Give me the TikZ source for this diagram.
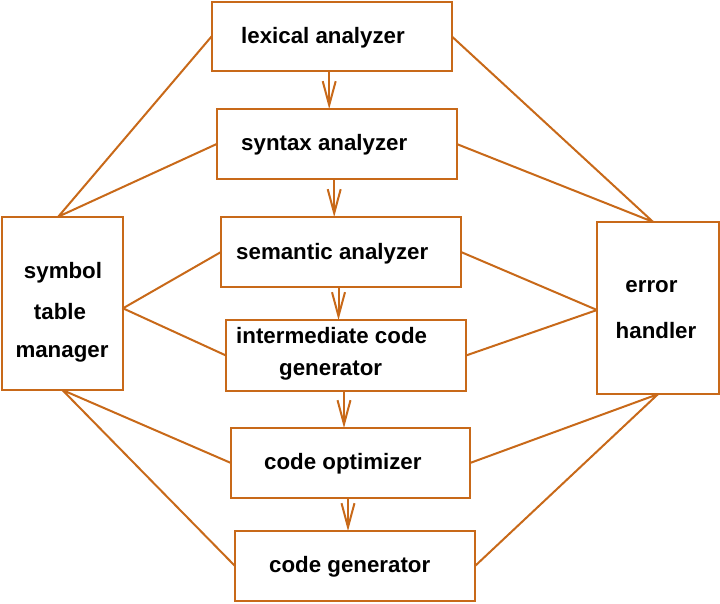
\documentclass[tikz,border=0pt]{standalone}
\usepackage{fontspec}
\setmainfont{Liberation Sans}
\usetikzlibrary{arrows.meta,calc}
\definecolor{brn}{RGB}{200,105,25}
\begin{document}
\begin{tikzpicture}[x=1pt,y=-1pt,
 box/.style={draw=brn,line width=2pt,inner sep=0pt,outer sep=0pt,rectangle},
 lbl/.style={font=\fontsize{22.3}{26}\selectfont\bfseries,inner sep=0pt,anchor=base west},
 clbl/.style={lbl,anchor=base},
 link/.style={draw=brn,line width=2pt,line join=round},
 flow/.style={draw=brn,line width=2pt,-{Straight Barb[length=24pt,width=13pt,line width=2pt]}}]
\useasboundingbox (0,0) rectangle (720,603);
% boxes
\node[box,minimum width=240pt,minimum height=69.5pt] (lex) at (331.7,36.3) {};
\node[box,minimum width=240pt,minimum height=70pt] (syn) at (336.7,144) {};
\node[box,minimum width=240pt,minimum height=70pt] (sem) at (341,252) {};
\node[box,minimum width=240pt,minimum height=71pt] (int) at (346,355.5) {};
\node[box,minimum width=239pt,minimum height=70pt] (opt) at (350.5,463) {};
\node[box,minimum width=240pt,minimum height=70pt] (gen) at (355,566) {};
\node[box,minimum width=121.3pt,minimum height=173.3pt] (sym) at (62.3,303.3) {};
\node[box,minimum width=122pt,minimum height=172.3pt] (err) at (658,308) {};
% labels
\node[lbl] (tlex) at (241,43) {lexical analyzer};
\node[lbl] (tsyn) at (241,150) {syntax analyzer};
\node[lbl] (tsem) at (236,259) {semantic analyzer};
\node[lbl] (tinta) at (236,343) {intermediate code};
\node[lbl] (tintb) at (279,375) {generator};
\node[lbl] (topt) at (264,469) {code optimizer};
\node[lbl] (tgen) at (269,572) {code generator};
\node[clbl] (tsyma) at (63,278) {symbol};
\node[clbl] (tsymb) at (60,319) {table};
\node[clbl] (tsymc) at (62,357) {manager};
\node[clbl] (terra) at (651.5,292) {error};
\node[clbl] (terrb) at (656,338) {handler};
% flow arrows
\coordinate (a1) at ($(lex.south)+(-2.5,0)$);
\coordinate (a2) at ($(syn.south)+(-2.5,0)$);
\coordinate (a3) at ($(sem.south)+(-2.5,0)$);
\coordinate (a4) at ($(int.south)+(-2,0)$);
\coordinate (a5) at ($(opt.south)+(-2.5,0)$);
\draw[flow] (a1) -- (a1 |- syn.north);
\draw[flow] (a2) -- (a2 |- sem.north);
\draw[flow] (a3) -- (a3 |- int.north);
\draw[flow] (a4) -- (a4 |- opt.north);
\draw[flow] (a5) -- (a5 |- gen.north);
% symbol table links
\coordinate (symtop) at ($(sym.north)+(-4,0)$);
\coordinate (symright) at ($(sym.east)+(0,5)$);
\draw[link] (lex.west) -- (symtop) -- (syn.west);
\draw[link] (sem.west) -- (symright) -- (int.west);
\draw[link] (opt.west) -- (sym.south) -- (gen.west);
% error handler links
\coordinate (errtop) at ($(err.north)+(-5,0)$);
\coordinate (errleft) at ($(err.west)+(0,2)$);
\draw[link] (lex.east) -- (errtop) -- (syn.east);
\draw[link] (sem.east) -- (errleft) -- (int.east);
\draw[link] (opt.east) -- (err.south) -- (gen.east);
\end{tikzpicture}
\end{document}
